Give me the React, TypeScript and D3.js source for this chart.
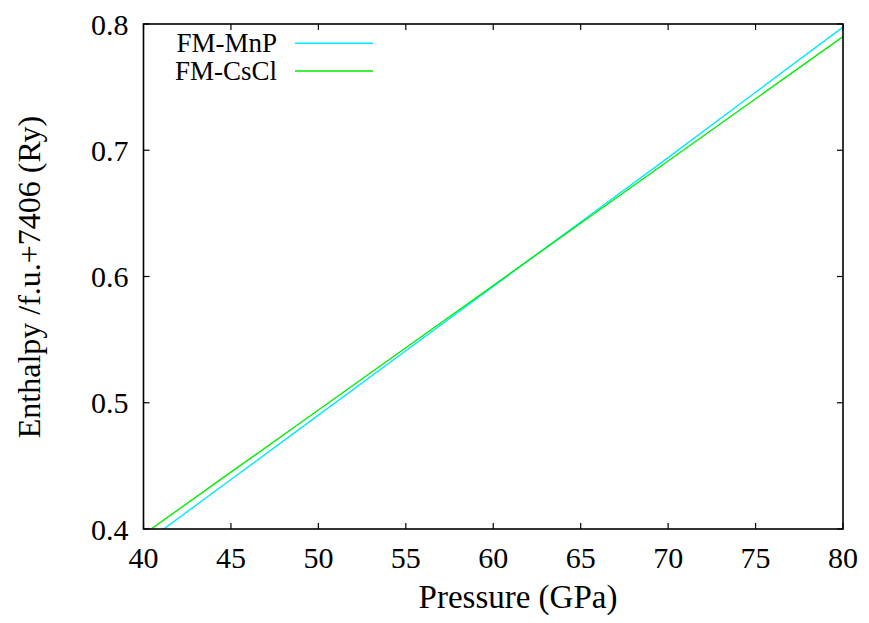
import React, { useRef, useEffect } from "react";
import * as d3 from "d3";

const pressures = [40, 45, 50, 55, 60, 65, 70, 75, 80];
const mnpValues = [0.3882, 0.4392, 0.4902, 0.5412, 0.5922, 0.6432, 0.6942, 0.7459, 0.7976];
const csclValues = [0.3957, 0.445, 0.4943, 0.5436, 0.5929, 0.6422, 0.6915, 0.7408, 0.79];
const xTicks = [40, 45, 50, 55, 60, 65, 70, 75, 80];
const yTicks = [0.4, 0.5, 0.6, 0.7, 0.8];
const seriesNames = ["FM-MnP", "FM-CsCl"];
const seriesColors = ["#00e8ff", "#00ee00"];

export default function App() {
  const ref = useRef<SVGSVGElement>(null);

  useEffect(() => {
    const width = 869;
    const height = 623;
    const margin = { top: 24, right: 26, bottom: 94, left: 143.5 };

    d3.select(ref.current).selectAll("*").remove();
    const svg = d3.select(ref.current)
      .attr("width", width)
      .attr("height", height)
      .attr("font-family", "Liberation Serif");

    const x = d3.scaleLinear().domain([40, 80]).range([margin.left, width - margin.right]);
    const y = d3.scaleLinear().domain([0.4, 0.8]).range([height - margin.bottom, margin.top]);

    const clipId = "plot-clip";
    svg.append("clipPath").attr("id", clipId)
      .append("rect")
      .attr("x", x(40)).attr("y", y(0.8))
      .attr("width", x(80) - x(40)).attr("height", y(0.4) - y(0.8));

    // series
    const series = [mnpValues, csclValues];
    const line = d3.line<number>()
      .x((_, i) => x(pressures[i]))
      .y(d => y(d));
    series.forEach((vals, k) => {
      svg.append("path")
        .datum(vals)
        .attr("d", line)
        .attr("fill", "none")
        .attr("stroke", seriesColors[k])
        .attr("stroke-width", 1.4)
        .attr("clip-path", `url(#${clipId})`);
    });

    // ticks (inward, mirrored)
    const tickLen = 6;
    const g = svg.append("g").attr("stroke", "#000").attr("stroke-width", 1.2);
    xTicks.forEach(t => {
      g.append("line").attr("x1", x(t)).attr("x2", x(t)).attr("y1", y(0.4)).attr("y2", y(0.4) - tickLen);
      g.append("line").attr("x1", x(t)).attr("x2", x(t)).attr("y1", y(0.8)).attr("y2", y(0.8) + tickLen);
    });
    yTicks.forEach(t => {
      g.append("line").attr("x1", x(40)).attr("x2", x(40) + tickLen).attr("y1", y(t)).attr("y2", y(t));
      g.append("line").attr("x1", x(80)).attr("x2", x(80) - tickLen).attr("y1", y(t)).attr("y2", y(t));
    });

    // border
    svg.append("rect")
      .attr("x", x(40)).attr("y", y(0.8))
      .attr("width", x(80) - x(40)).attr("height", y(0.4) - y(0.8))
      .attr("fill", "none").attr("stroke", "#000").attr("stroke-width", 1.6);

    // tick labels
    svg.append("g").selectAll("text").data(xTicks).enter().append("text")
      .attr("x", d => x(d)).attr("y", y(0.4) + 39)
      .attr("text-anchor", "middle")
      .attr("font-size", 30)
      .text(d => d);
    svg.append("g").selectAll("text").data(yTicks).enter().append("text")
      .attr("x", x(40) - 15).attr("y", d => y(d)).attr("dy", "0.35em")
      .attr("text-anchor", "end")
      .attr("font-size", 30)
      .text(d => d3.format(".1f")(d));

    // axis titles
    svg.append("text")
      .attr("x", 518).attr("y", 608)
      .attr("text-anchor", "middle")
      .attr("font-size", 33)
      .text("Pressure (GPa)");
    svg.append("text")
      .attr("transform", `translate(40,${277}) rotate(-90)`)
      .attr("text-anchor", "middle")
      .attr("font-size", 32)
      .text("Enthalpy /f.u.+7406 (Ry)");

    // legend
    const legendY = [43.3, 71];
    seriesNames.forEach((name, k) => {
      svg.append("text")
        .attr("x", 277).attr("y", legendY[k]).attr("dy", "0.33em")
        .attr("text-anchor", "end")
        .attr("font-size", 27)
        .text(name);
      svg.append("line")
        .attr("x1", 295).attr("x2", 373)
        .attr("y1", legendY[k]).attr("y2", legendY[k])
        .attr("stroke", seriesColors[k]).attr("stroke-width", 1.4);
    });
  }, []);

  return (
    <svg ref={ref} style={{ position: "absolute", left: 0, top: 0, background: "#fff" }}></svg>
  );
}
